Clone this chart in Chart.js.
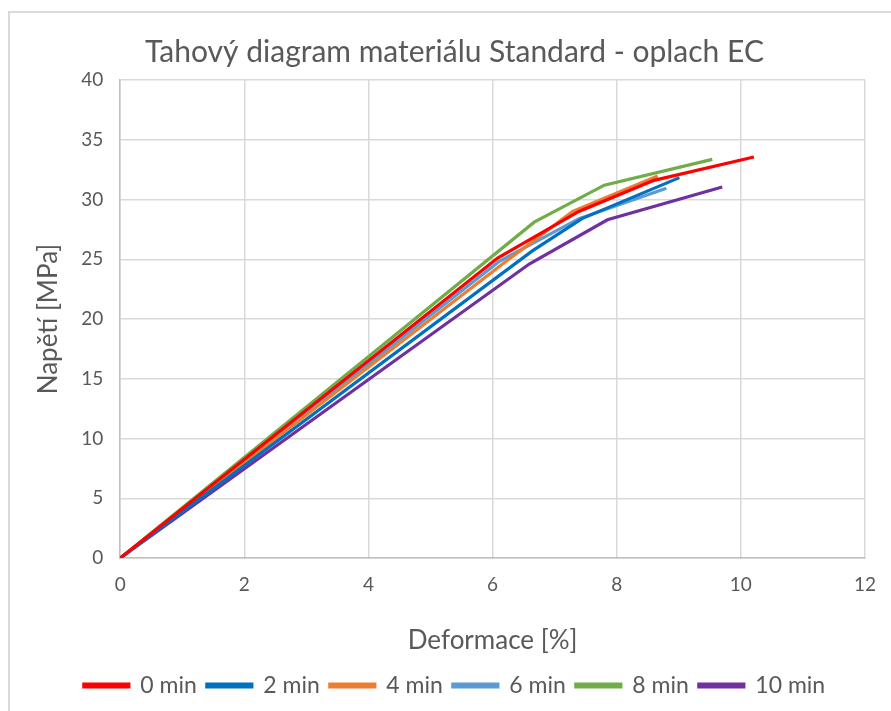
<!DOCTYPE html>
<html>
<head>
<meta charset="utf-8">
<script src="https://cdn.jsdelivr.net/npm/chart.js@4/dist/chart.umd.min.js"></script>
<style>
  html, body { margin: 0; padding: 0; background: #fff; }
  #wrap { width: 891px; height: 711px; }
</style>
</head>
<body>
<div id="wrap"><canvas id="myChart" width="891" height="711"></canvas></div>
<script>
// strain [%] / stress [MPa] pairs
const seriesNames = ['0 min', '2 min', '4 min', '6 min', '8 min', '10 min'];
const lineColors = ['#FF0000', '#0070C0', '#ED7D31', '#5B9BD5', '#70AD47', '#7030A0'];

const strain0 = [0, 6.08, 7.39, 8.6, 10.21];
const stress0 = [0, 25.1, 29.0, 31.6, 33.56];

const strain2 = [0, 6.64, 7.44, 9.01];
const stress2 = [0, 25.7, 28.4, 31.83];

const strain4 = [0, 6.16, 7.29, 8.66];
const stress4 = [0, 24.6, 29.0, 31.97];

const strain6 = [0, 6.1, 7.39, 8.8];
const stress6 = [0, 24.8, 28.4, 30.95];

const strain8 = [0, 6.67, 7.8, 9.54];
const stress8 = [0, 28.1, 31.2, 33.36];

const strain10 = [0, 6.59, 7.85, 9.7];
const stress10 = [0, 24.6, 28.3, 31.05];

const xTicks = [0, 2, 4, 6, 8, 10, 12];
const yTicks = [0, 5, 10, 15, 20, 25, 30, 35, 40];

const allStrain = [strain0, strain2, strain4, strain6, strain8, strain10];
const allStress = [stress0, stress2, stress4, stress6, stress8, stress10];

const datasets = seriesNames.map((name, i) => ({
    label: name,
    data: allStrain[i].map((x, j) => ({ x: x, y: allStress[i][j] })),
    borderColor: lineColors[i],
    backgroundColor: lineColors[i],
    borderWidth: 3.2,
    pointRadius: 0,
    showLine: true,
    tension: 0
}));

const fontFam = 'Lato, "Open Sans", sans-serif';
const grey = '#595959';

// light frame like the Excel chart border
const framePlugin = {
    id: 'frame',
    beforeDraw(chart) {
        const ctx = chart.ctx;
        ctx.save();
        ctx.fillStyle = '#fff';
        ctx.fillRect(0, 0, chart.width, chart.height);
        ctx.strokeStyle = '#d9d9d9';
        ctx.lineWidth = 2;
        ctx.beginPath();
        ctx.moveTo(9, chart.height + 2);
        ctx.lineTo(9, 12);
        ctx.lineTo(chart.width + 2, 12);
        ctx.stroke();
        ctx.restore();
    }
};

new Chart('myChart', {
    type: 'scatter',
    data: { datasets: datasets },
    plugins: [framePlugin],
    options: {
        responsive: false,
        animation: false,
        layout: { padding: { top: 18, right: 15, left: 33, bottom: 4 } },
        scales: {
            x: {
                type: 'linear',
                min: 0, max: 12,
                afterBuildTicks: (ax) => { ax.ticks = xTicks.map(v => ({ value: v })); },
                ticks: { color: grey, font: { family: fontFam, size: 19 }, padding: 15 },
                grid: { color: '#d9d9d9', lineWidth: 1.5, tickLength: 0 },
                border: { color: '#bfbfbf', width: 1.5 },
                title: { display: true, text: 'Deformace [%]', color: grey, font: { family: fontFam, size: 26 }, padding: { top: 14, bottom: 8 } }
            },
            y: {
                type: 'linear',
                min: 0, max: 40,
                afterBuildTicks: (ax) => { ax.ticks = yTicks.map(v => ({ value: v })); },
                ticks: { color: grey, font: { family: fontFam, size: 19 }, padding: 17 },
                grid: { color: '#d9d9d9', lineWidth: 1.5, tickLength: 0 },
                border: { color: '#bfbfbf', width: 1.5 },
                title: { display: true, text: 'Napětí [MPa]', color: grey, font: { family: fontFam, size: 26 }, padding: { top: 0, bottom: 0 } }
            }
        },
        plugins: {
            title: {
                display: true,
                text: 'Tahový diagram materiálu Standard - oplach EC',
                color: grey,
                font: { family: fontFam, size: 30, weight: 'normal' },
                padding: { top: 16, bottom: 10 }
            },
            legend: {
                position: 'bottom',
                labels: {
                    color: grey,
                    font: { family: fontFam, size: 23 },
                    boxWidth: 45,
                    boxHeight: 3,
                    padding: 10
                }
            },
            tooltip: { enabled: false }
        }
    }
});
</script>
</body>
</html>
